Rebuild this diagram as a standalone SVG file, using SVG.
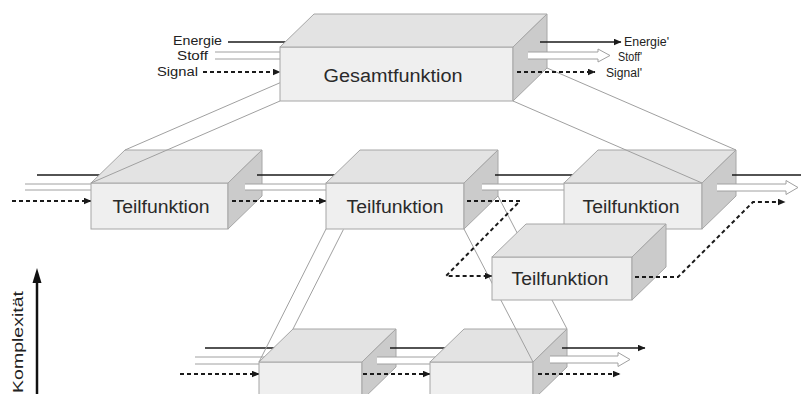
<svg xmlns="http://www.w3.org/2000/svg" width="801" height="394" viewBox="0 0 801 394">
<style>
.fr{fill:#efefef;stroke:#a6a6a6;stroke-width:1}
.tp{fill:#e3e3e3;stroke:#a6a6a6;stroke-width:1}
.rt{fill:#cbcbcb;stroke:#a6a6a6;stroke-width:1}
.en{stroke:#1a1a1a;stroke-width:1.6;fill:none}
.st{fill:#fff;stroke:#a0a0a0;stroke-width:1}
.sl{stroke:#a0a0a0;stroke-width:1;fill:none}
.sg{stroke:#1a1a1a;stroke-width:2;stroke-dasharray:4 3;fill:none}
.pl{stroke:#a0a0a0;stroke-width:1;fill:none}
.lb{font-family:"Liberation Sans",Arial,sans-serif;font-size:12.5px;fill:#222}
.bt{font-family:"Liberation Sans",Arial,sans-serif;font-size:18px;fill:#2a2a2a;text-anchor:middle}
</style>
<defs>
<marker id="ah" viewBox="0 0 8 7" refX="7.5" refY="3.5" markerWidth="8" markerHeight="7" markerUnits="userSpaceOnUse" orient="auto"><path d="M0,0 L8,3.5 L0,7 z" fill="#1a1a1a"/></marker>
</defs>

<!-- labels -->
<g id="labels">
<text class="lb" x="222" y="45" text-anchor="end" textLength="49" lengthAdjust="spacingAndGlyphs">Energie</text>
<text class="lb" x="208" y="60" text-anchor="end" textLength="31" lengthAdjust="spacingAndGlyphs">Stoff</text>
<text class="lb" x="198" y="76" text-anchor="end" textLength="41" lengthAdjust="spacingAndGlyphs">Signal</text>
<text class="lb" x="624" y="46" textLength="45" lengthAdjust="spacingAndGlyphs">Energie'</text>
<text class="lb" x="618" y="61" textLength="24" lengthAdjust="spacingAndGlyphs">Stoff'</text>
<text class="lb" x="606" y="77" textLength="36" lengthAdjust="spacingAndGlyphs">Signal'</text>
</g>

<g id="connectors">
<!-- top inputs -->
<line class="en" x1="228" y1="42" x2="288" y2="42"/>
<path class="sl" d="M215,52 L281,52 M215,59 L281,59"/>
<path class="sg" d="M203,72 L280,72" marker-end="url(#ah)"/>
<!-- middle inputs -->
<line class="en" x1="37" y1="175" x2="100" y2="175"/>
<path class="sl" d="M25,184 L92,184 M25,190 L92,190"/>
<path class="sg" d="M12,201 L91,201" marker-end="url(#ah)"/>
</g>

<g id="box1">
<rect class="fr" x="91" y="183" width="137" height="46"/>
<polygon class="tp" points="91,183 125,150 262,150 228,183"/>
<polygon class="rt" points="228,183 262,150 262,196 228,229"/>
<text class="bt" x="161" y="213" textLength="97" lengthAdjust="spacingAndGlyphs">Teilfunktion</text>
</g>
<g id="flow12">
<line class="en" x1="257" y1="175" x2="340" y2="175"/>
<path class="st" d="M245,184 L327,184 L327,190 L245,190"/>
<path class="sg" d="M232,201 L326,201" marker-end="url(#ah)"/>
</g>
<g id="box2">
<rect class="fr" x="326" y="183" width="138" height="46"/>
<polygon class="tp" points="326,183 360,150 498,150 464,183"/>
<polygon class="rt" points="464,183 498,150 498,196 464,229"/>
<text class="bt" x="395" y="213" textLength="97" lengthAdjust="spacingAndGlyphs">Teilfunktion</text>
</g>
<g id="flow23">
<line class="en" x1="495" y1="175" x2="577" y2="175"/>
<path class="st" d="M482,184 L566,184 L566,190 L482,190"/>
</g>
<g id="box3">
<rect class="fr" x="564" y="183" width="138" height="46"/>
<polygon class="tp" points="564,183 598,150 736,150 702,183"/>
<polygon class="rt" points="702,183 736,150 736,196 702,229"/>
<text class="bt" x="631" y="213" textLength="97" lengthAdjust="spacingAndGlyphs">Teilfunktion</text>
</g>
<g id="flow3out">
<line class="en" x1="732" y1="175" x2="801" y2="175"/>
<path class="st" d="M717,184 L786,184 L786,180.5 L798,187.5 L786,194.5 L786,191 L717,191"/>
</g>

<g id="projections-top">
<line class="pl" x1="314" y1="68" x2="125" y2="150"/>
<line class="pl" x1="280" y1="101" x2="91" y2="183"/>
<line class="pl" x1="547" y1="68" x2="736" y2="150"/>
<line class="pl" x1="513" y1="101" x2="702" y2="183"/>
</g>

<g id="box-gesamt">
<rect class="fr" x="280" y="47" width="233" height="54"/>
<polygon class="tp" points="280,47 314,14 547,14 513,47"/>
<polygon class="rt" points="513,47 547,14 547,68 513,101"/>
<text class="bt" x="393" y="82" font-size="19" textLength="139" lengthAdjust="spacingAndGlyphs">Gesamtfunktion</text>
</g>
<g id="flow-top-out">
<line class="en" x1="540" y1="42" x2="621" y2="42" marker-end="url(#ah)"/>
<path class="st" d="M528,52 L598,52 L598,49 L610,55.5 L598,62 L598,59 L528,59"/>
<path class="sg" d="M517,72 L595,72" marker-end="url(#ah)"/>
</g>

<!-- bottom row -->
<g id="flow5in">
<line class="en" x1="205" y1="348" x2="275" y2="348"/>
<path class="sl" d="M195,357 L265,357 M195,364 L260,364"/>
<path class="sg" d="M180,374 L259,374" marker-end="url(#ah)"/>
</g>
<g id="box5">
<rect class="fr" x="259" y="362" width="103" height="40"/>
<polygon class="tp" points="259,362 293,329 396,329 362,362"/>
<polygon class="rt" points="362,362 396,329 396,367 362,400"/>
</g>
<g id="flow56">
<line class="en" x1="390" y1="348" x2="450" y2="348"/>
<path class="st" d="M377,357 L436,357 L436,364 L377,364"/>
<path class="sg" d="M363,374 L430,374" marker-end="url(#ah)"/>
</g>
<g id="box6">
<rect class="fr" x="430" y="362" width="103" height="40"/>
<polygon class="tp" points="430,362 464,329 567,329 533,362"/>
<polygon class="rt" points="533,362 567,329 567,367 533,400"/>
</g>
<g id="flow6out">
<line class="en" x1="562" y1="348" x2="645" y2="348" marker-end="url(#ah)"/>
<path class="st" d="M550,356 L618,356 L618,352.5 L630,359.5 L618,366.5 L618,363 L550,363"/>
<path class="sg" d="M538,374 L620,374" marker-end="url(#ah)"/>
</g>

<g id="projections-lower">
<line class="pl" x1="326" y1="229" x2="259" y2="362"/>
<line class="pl" x1="343.4" y1="229.5" x2="293" y2="329"/>
<line class="pl" x1="464" y1="229" x2="533" y2="362"/>
<line class="pl" x1="498" y1="196" x2="567" y2="329"/>
</g>

<g id="flow24">
<path class="sg" d="M467,201 L520,201 L446,276 L492,276" marker-end="url(#ah)"/>
</g>

<g id="box4">
<rect class="fr" x="492" y="257" width="140" height="43"/>
<polygon class="tp" points="492,257 526,224 666,224 632,257"/>
<polygon class="rt" points="632,257 666,224 666,267 632,300"/>
<text class="bt" x="560" y="285" textLength="97" lengthAdjust="spacingAndGlyphs">Teilfunktion</text>
</g>
<g id="flow4out">
<path class="sg" d="M635,277 L678,277 L753,202 L785,202" marker-end="url(#ah)"/>
</g>

<g id="axis">
<line x1="37" y1="394" x2="37" y2="281" stroke="#111" stroke-width="2.5"/>
<polygon points="32.5,283 41.5,283 37,268" fill="#111"/>
<text transform="translate(23,393) rotate(-90)" font-family="Liberation Sans, Arial, sans-serif" font-size="14" fill="#222" textLength="102" lengthAdjust="spacingAndGlyphs">Komplexität</text>
</g>
</svg>
